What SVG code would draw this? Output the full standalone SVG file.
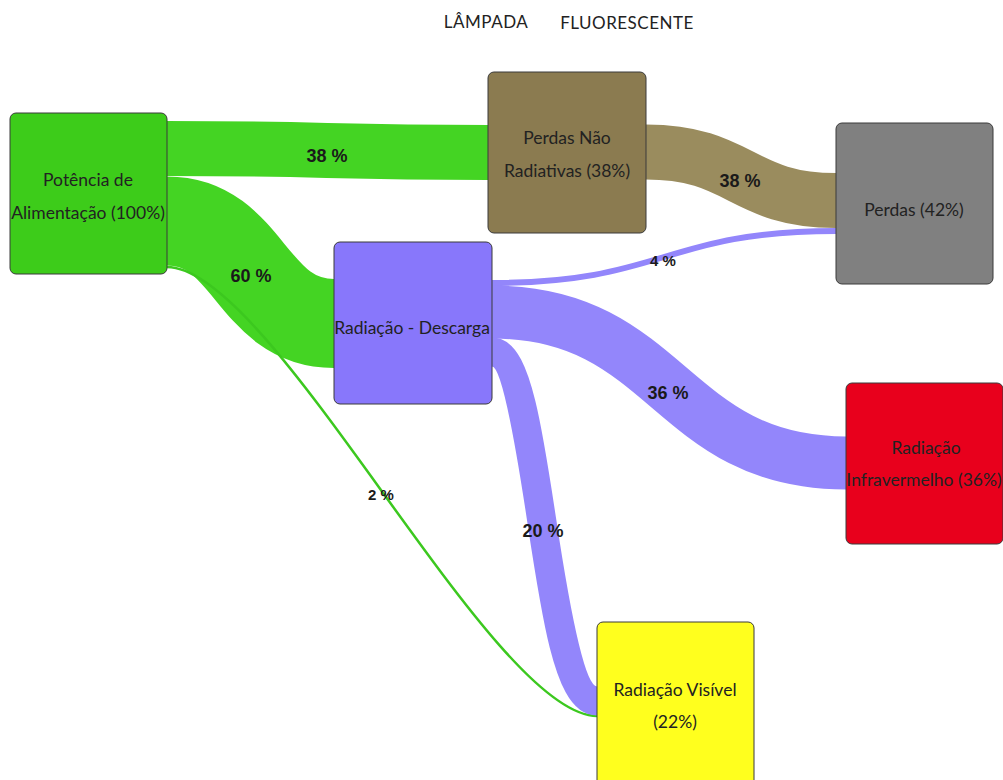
<svg xmlns="http://www.w3.org/2000/svg" width="1003" height="780" viewBox="0 0 1003 780">
<style>
.node{stroke:#3a3a3a;stroke-width:1;}
.nt{font-family:"Lato","Liberation Sans",sans-serif;font-size:17.5px;fill:#222;text-anchor:middle;}
.lt{font-family:"Liberation Sans",Arial,sans-serif;font-size:18px;font-weight:bold;fill:#1a1a1a;text-anchor:middle;}
.ls{font-family:"Liberation Sans",Arial,sans-serif;font-size:15px;font-weight:bold;fill:#1a1a1a;text-anchor:middle;}
.link{fill:none;}
.title{font-family:"Lato","Liberation Sans",sans-serif;font-size:17px;letter-spacing:0.5px;fill:#222;text-anchor:middle;}
</style>
<rect width="1003" height="780" fill="#ffffff"/>
<g id="title">
<text class="title" x="486" y="28">LÂMPADA</text>
<text class="title" x="627" y="29">FLUORESCENTE</text>
</g>
<g id="connectors">
<path class="link" d="M167,148.5 C327,148.5 327,152.5 488,152.5" stroke="#44d423" stroke-width="55"/>
<path class="link" d="M167,221 C250,221 250,323.5 334,323.5" stroke="#44d423" stroke-width="89"/>
<path class="link" d="M167,267 C273,267 491,716 597,716" stroke="#3cc81f" stroke-width="2.5"/>
<path class="link" d="M646,152 C741,152 741,200.5 836,200.5" stroke="#9a8c5e" stroke-width="55"/>
<path class="link" d="M492,283 C664,283 664,231 836,231" stroke="#9386fb" stroke-width="6"/>
<path class="link" d="M492,312 C669,312 669,463 846,463" stroke="#9386fb" stroke-width="53"/>
<path class="link" d="M492,352 C542,352 542,701 597,701" stroke="#9386fb" stroke-width="29"/>
</g>
<g id="labels">
<text class="lt" x="327" y="162">38 %</text>
<text class="lt" x="251" y="282">60 %</text>
<text class="lt" x="740" y="187">38 %</text>
<text class="ls" x="663" y="266">4 %</text>
<text class="lt" x="668" y="399">36 %</text>
<text class="lt" x="543" y="537">20 %</text>
<text class="ls" x="381" y="500">2 %</text>
</g>
<g id="n-potencia">
<rect class="node" x="10" y="113" width="157" height="161" rx="6" fill="#3dcc1a"/>
<text class="nt" x="88" y="186">Potência de</text>
<text class="nt" x="88" y="219">Alimentação (100%)</text>
</g>
<g id="n-perdas-nao-radiativas">
<rect class="node" x="488" y="72" width="158" height="161" rx="6" fill="#8b7b50"/>
<text class="nt" x="567" y="144">Perdas Não</text>
<text class="nt" x="567" y="177">Radiativas (38%)</text>
</g>
<g id="n-descarga">
<rect class="node" x="334" y="242" width="158" height="162" rx="6" fill="#8877fb"/>
<text class="nt" x="412" y="334">Radiação - Descarga</text>
</g>
<g id="n-perdas">
<rect class="node" x="836" y="123" width="157" height="161" rx="6" fill="#808080"/>
<text class="nt" x="914" y="216">Perdas (42%)</text>
</g>
<g id="n-infravermelho">
<rect class="node" x="846" y="383" width="157" height="161" rx="6" fill="#e8001c"/>
<text class="nt" x="926" y="454">Radiação</text>
<text class="nt" x="924" y="486">Infravermelho (36%)</text>
</g>
<g id="n-visivel">
<rect class="node" x="597" y="622" width="157" height="165" rx="6" fill="#ffff1e"/>
<text class="nt" x="675" y="696">Radiação Visível</text>
<text class="nt" x="675" y="728">(22%)</text>
</g>
</svg>
